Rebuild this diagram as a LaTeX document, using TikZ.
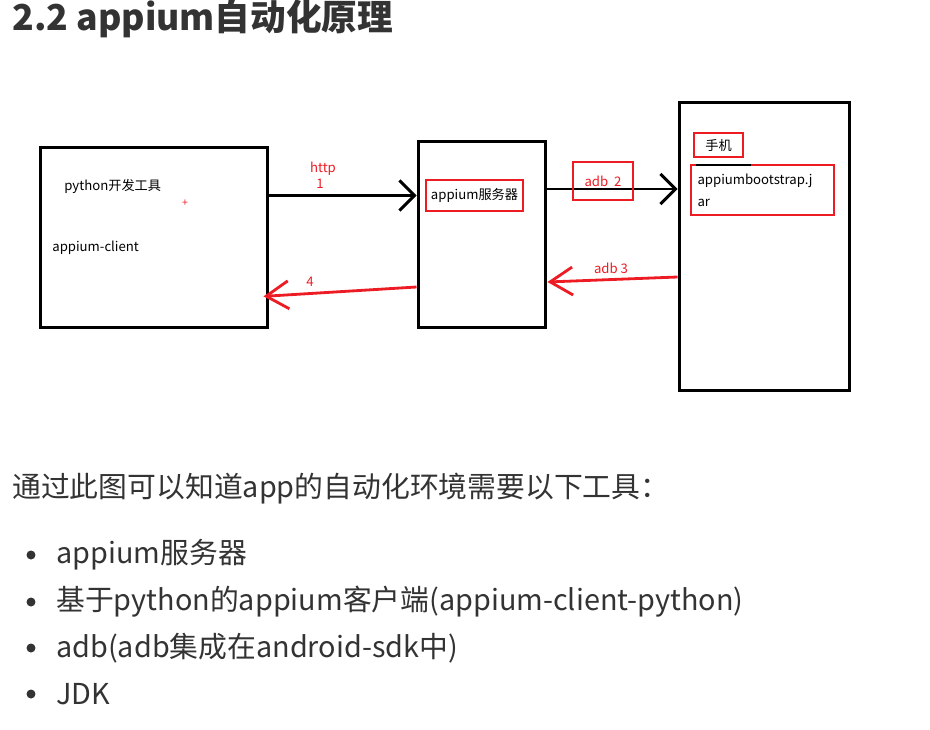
\documentclass[tikz,border=0pt]{standalone}
\usepackage{fontspec}
\setmainfont{Noto Sans CJK SC}
\usetikzlibrary{arrows.meta}
\definecolor{penred}{RGB}{237,28,36}
\definecolor{textgray}{RGB}{51,51,51}

\tikzset{
  bigbox/.style={draw, line width=1.7pt, inner sep=0pt},
  redbox/.style={draw=penred, line width=1.2pt, inner sep=0pt},
  small/.style={font=\fontsize{7.5}{12.5}\selectfont},
  redlabel/.style={small, text=penred, inner sep=0pt},
  blackarrow/.style={line width=1.7pt, -{Straight Barb[length=0.3cm,width=0.6cm]}},
  redarrow/.style={penred, line width=1.6pt, -{Straight Barb[length=0.45cm,width=0.56cm]}},
  bodytext/.style={font=\fontsize{16.4}{20}\selectfont, text=textgray, inner sep=0pt}
}

\begin{document}
\begin{tikzpicture}[x=0.02cm,y=-0.02cm]
  \useasboundingbox (0,0) rectangle (930,730);
  \node[anchor=base west, font=\fontsize{20.3}{22}\selectfont\bfseries, text=textgray, inner sep=0pt] (title) at (12,31) {2.2 appium自动化原理};

  % the three boxes
  \node[bigbox, minimum width=4.56cm, minimum height=3.62cm] (client) at (154,237.5) {};
  \node[bigbox, minimum width=2.56cm, minimum height=3.74cm] (server) at (482,234.5) {};
  \node[bigbox, minimum width=3.42cm, minimum height=5.78cm] (phone) at (764.5,246.5) {};

  \node[small, anchor=west, inner sep=0pt] (pytool) at (64,186) {python开发工具};
  \node[small, anchor=west, inner sep=0pt] (pyclient) at (52,248) {appium-client};
  \node[text=penred, font=\fontsize{6}{6}\selectfont, inner sep=0pt] (plus) at (185,203) {+};

  \node[redbox, small, minimum width=1.94cm, minimum height=0.62cm] (srvlbl) at (474.5,195.5) {appium服务器};
  \node[redbox, small, minimum width=0.98cm, minimum height=0.48cm] (phonelbl) at (718.5,145) {手机};
  \node[redbox, small, minimum width=2.86cm, minimum height=1cm, text width=2.6cm, align=left] (jar) at (762.5,190) {appiumbootstrap.j\\ar};
  \draw[line width=1.1pt] (jar.north west) ++(6,1) -- ++(55,0);

  % requests
  \draw[blackarrow] (client.east |- srvlbl) -- (server.west |- srvlbl);
  \node[redlabel] (http) at (323,169) {http};
  \node[redlabel] (one) at (320,184) {1};

  \draw[blackarrow] (server.east |- 0,189) -- (phone.west |- 0,189);
  \node[draw=penred, line width=0.6pt, minimum width=1.2cm, minimum height=0.76cm, redlabel] (adb2) at (603,181) {adb\ \ 2};

  % answers
  \draw[redarrow] (phone.west |- 0,277) -- (server.east |- 0,282);
  \node[redlabel] (adb3) at (611,268) {adb 3};
  \draw[redarrow, shorten >=-0.12cm] (server.west |- 0,287) -- (client.east |- 0,296);
  \node[redlabel] (four) at (310,282) {4};

  \node[bodytext, anchor=base west] (intro) at (12,497) {通过此图可以知道app的自动化环境需要以下工具：};
  \foreach \y/\t [count=\i] in {555/appium服务器, 602/基于python的appium客户端(appium-client-python), 648/adb(adb集成在android-sdk中), 694/JDK} {
    \fill[textgray] (31,\y) circle (0.09cm) node[coordinate] (dot\i) {};
    \node[bodytext, anchor=west] (item\i) at (56,\y) {\t};
  }
\end{tikzpicture}
\end{document}
